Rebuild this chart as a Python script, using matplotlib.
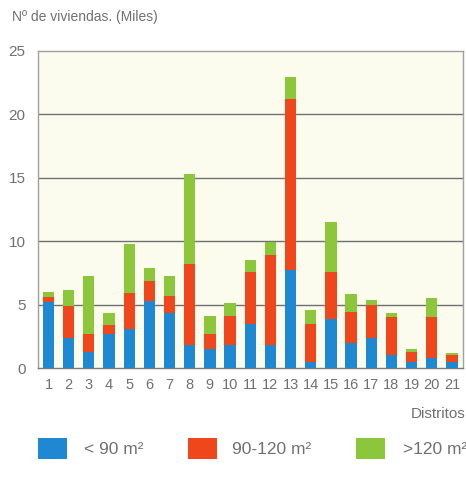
import matplotlib
matplotlib.use("Agg")
import matplotlib.pyplot as plt
from matplotlib.patches import Rectangle
import numpy as np

plt.rcParams['font.family'] = ['Liberation Sans', 'DejaVu Sans']

distritos = [str(i) for i in range(1, 22)]
menos_90 = [5.2, 2.4, 1.25, 2.7, 3.1, 5.25, 4.3, 1.8, 1.5, 1.8, 3.5,
            1.8, 7.7, 0.5, 3.9, 2.0, 2.35, 1.05, 0.5, 0.8, 0.45]
de_90_120 = [0.4, 2.5, 1.45, 0.7, 2.8, 1.65, 1.35, 6.4, 1.2, 2.3, 4.1,
             7.1, 13.5, 3.0, 3.7, 2.45, 2.6, 3.0, 0.8, 3.25, 0.55]
mas_120 = [0.4, 1.25, 4.55, 0.95, 3.85, 1.0, 1.6, 7.1, 1.4, 1.0, 0.9,
           1.0, 1.75, 1.1, 3.9, 1.35, 0.4, 0.25, 0.2, 1.5, 0.2]
y_ticks = [0, 5, 10, 15, 20, 25]
series_labels = ['< 90 m²', '90-120 m²', '>120 m²']
colors = ['#1f88d2', '#f0461c', '#8cc63a']

W, H = 466, 484
fig = plt.figure(figsize=(W / 100, H / 100), dpi=100)
fig.patch.set_facecolor('white')
ax = fig.add_axes([38 / W, 1 - 368 / H, (463 - 38) / W, (368 - 51) / H])
ax.set_facecolor('#fbfcee')

x = np.arange(1, 22)
a = np.array(menos_90)
b = np.array(de_90_120)
c = np.array(mas_120)
width = 0.56
ax.bar(x, a, width, color=colors[0], zorder=3)
ax.bar(x, b, width, bottom=a, color=colors[1], zorder=3)
ax.bar(x, c, width, bottom=a + b, color=colors[2], zorder=3)

ax.set_xlim(0.48, 21.55)
ax.set_ylim(0, 25)
ax.set_yticks(y_ticks)
ax.set_xticks(x)
ax.set_xticklabels(distritos)
txt = '#707070'
ax.tick_params(axis='both', length=0, labelsize=11, colors=txt)
ax.tick_params(axis='y', pad=9)
ax.tick_params(axis='x', pad=7, labelsize=10.5)

for v in y_ticks[1:-1]:
    ax.axhline(v, color='#707070', lw=1.0, zorder=1)
for side in ['left', 'bottom', 'top', 'right']:
    ax.spines[side].set_color('#a0a0a0')
    ax.spines[side].set_linewidth(1.0)
ax.spines['bottom'].set_color('#7a7a7a')

fig.text(12 / W, 1 - 17 / H, 'Nº de viviendas. (Miles)', fontsize=10,
         color=txt, va='center', ha='left')
fig.text(465 / W, 1 - 414 / H, 'Distritos', fontsize=11, color=txt,
         va='center', ha='right')

# legend
sq_x = [38, 188, 356]
tx_x = [84, 232, 403]
for sx, tx, col, lab in zip(sq_x, tx_x, colors, series_labels):
    fig.add_artist(Rectangle((sx / W, 1 - 459 / H), 29 / W, 21 / H,
                             transform=fig.transFigure, color=col, lw=0))
    fig.text(tx / W, 1 - 449 / H, lab, fontsize=12.5, color=txt,
             va='center', ha='left')

fig.savefig('out.png', dpi=100, facecolor='white')
